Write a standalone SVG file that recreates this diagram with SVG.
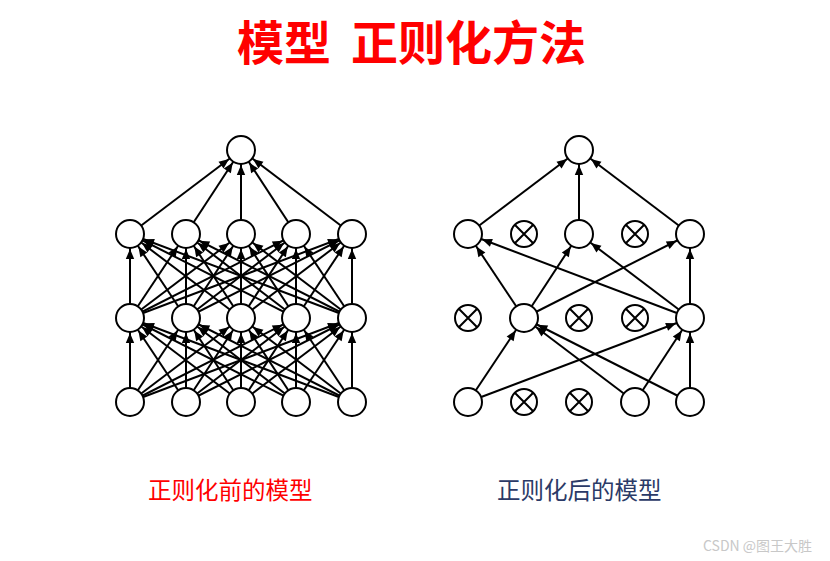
<svg xmlns="http://www.w3.org/2000/svg" width="830" height="561" viewBox="0 0 830 561">
<style>
.n{fill:#fff;stroke:#000;stroke-width:2}
.x{fill:#fff;stroke:#000;stroke-width:2}
.xl{stroke:#000;stroke-width:2}
.c line{stroke:#000;stroke-width:2;marker-end:url(#ah)}
.t{font-family:"Noto Sans CJK SC","Noto Sans",sans-serif}
</style>
<defs>
<marker id="ah" markerUnits="userSpaceOnUse" viewBox="-30 -6 30 12" refX="0" refY="0" markerWidth="30" markerHeight="12" orient="auto">
<path d="M-15,0 L-25,-4.2 L-25,4.2 Z" fill="#000"/>
</marker>
</defs>
<rect width="830" height="561" fill="#fff"/>
<g id="title" class="t" fill="#ff0000" font-weight="bold" font-size="47">
<text x="237" y="60">模型</text>
<text x="351" y="60">正则化方法</text>
</g>
<g id="connectors" class="c">
<!-- left: input to hidden1 -->
<line x1="130" y1="402" x2="130" y2="318"/><line x1="130" y1="402" x2="186" y2="318"/><line x1="130" y1="402" x2="241" y2="318"/><line x1="130" y1="402" x2="296" y2="318"/><line x1="130" y1="402" x2="352" y2="318"/>
<line x1="186" y1="402" x2="130" y2="318"/><line x1="186" y1="402" x2="186" y2="318"/><line x1="186" y1="402" x2="241" y2="318"/><line x1="186" y1="402" x2="296" y2="318"/><line x1="186" y1="402" x2="352" y2="318"/>
<line x1="241" y1="402" x2="130" y2="318"/><line x1="241" y1="402" x2="186" y2="318"/><line x1="241" y1="402" x2="241" y2="318"/><line x1="241" y1="402" x2="296" y2="318"/><line x1="241" y1="402" x2="352" y2="318"/>
<line x1="296" y1="402" x2="130" y2="318"/><line x1="296" y1="402" x2="186" y2="318"/><line x1="296" y1="402" x2="241" y2="318"/><line x1="296" y1="402" x2="296" y2="318"/><line x1="296" y1="402" x2="352" y2="318"/>
<line x1="352" y1="402" x2="130" y2="318"/><line x1="352" y1="402" x2="186" y2="318"/><line x1="352" y1="402" x2="241" y2="318"/><line x1="352" y1="402" x2="296" y2="318"/><line x1="352" y1="402" x2="352" y2="318"/>
<!-- left: hidden1 to hidden2 -->
<line x1="130" y1="318" x2="130" y2="234"/><line x1="130" y1="318" x2="186" y2="234"/><line x1="130" y1="318" x2="241" y2="234"/><line x1="130" y1="318" x2="296" y2="234"/><line x1="130" y1="318" x2="352" y2="234"/>
<line x1="186" y1="318" x2="130" y2="234"/><line x1="186" y1="318" x2="186" y2="234"/><line x1="186" y1="318" x2="241" y2="234"/><line x1="186" y1="318" x2="296" y2="234"/><line x1="186" y1="318" x2="352" y2="234"/>
<line x1="241" y1="318" x2="130" y2="234"/><line x1="241" y1="318" x2="186" y2="234"/><line x1="241" y1="318" x2="241" y2="234"/><line x1="241" y1="318" x2="296" y2="234"/><line x1="241" y1="318" x2="352" y2="234"/>
<line x1="296" y1="318" x2="130" y2="234"/><line x1="296" y1="318" x2="186" y2="234"/><line x1="296" y1="318" x2="241" y2="234"/><line x1="296" y1="318" x2="296" y2="234"/><line x1="296" y1="318" x2="352" y2="234"/>
<line x1="352" y1="318" x2="130" y2="234"/><line x1="352" y1="318" x2="186" y2="234"/><line x1="352" y1="318" x2="241" y2="234"/><line x1="352" y1="318" x2="296" y2="234"/><line x1="352" y1="318" x2="352" y2="234"/>
<!-- left: hidden2 to output -->
<line x1="130" y1="234" x2="241" y2="150"/><line x1="186" y1="234" x2="241" y2="150"/><line x1="241" y1="234" x2="241" y2="150"/><line x1="296" y1="234" x2="241" y2="150"/><line x1="352" y1="234" x2="241" y2="150"/>
<!-- right -->
<line x1="468" y1="234" x2="579" y2="150"/><line x1="579" y1="234" x2="579" y2="150"/><line x1="690" y1="234" x2="579" y2="150"/>
<line x1="524" y1="318" x2="468" y2="234"/><line x1="690" y1="318" x2="468" y2="234"/>
<line x1="524" y1="318" x2="579" y2="234"/><line x1="690" y1="318" x2="579" y2="234"/>
<line x1="524" y1="318" x2="690" y2="234"/><line x1="690" y1="318" x2="690" y2="234"/>
<line x1="468" y1="402" x2="524" y2="318"/><line x1="635" y1="402" x2="524" y2="318"/><line x1="690" y1="402" x2="524" y2="318"/>
<line x1="468" y1="402" x2="690" y2="318"/><line x1="635" y1="402" x2="690" y2="318"/><line x1="690" y1="402" x2="690" y2="318"/>
</g>
<g id="left-out"><circle class="n" cx="241" cy="150" r="14"/></g>
<g id="left-h2">
<circle class="n" cx="130" cy="234" r="14"/><circle class="n" cx="186" cy="234" r="14"/><circle class="n" cx="241" cy="234" r="14"/><circle class="n" cx="296" cy="234" r="14"/><circle class="n" cx="352" cy="234" r="14"/>
</g>
<g id="left-h1">
<circle class="n" cx="130" cy="318" r="14"/><circle class="n" cx="186" cy="318" r="14"/><circle class="n" cx="241" cy="318" r="14"/><circle class="n" cx="296" cy="318" r="14"/><circle class="n" cx="352" cy="318" r="14"/>
</g>
<g id="left-in">
<circle class="n" cx="130" cy="402" r="14"/><circle class="n" cx="186" cy="402" r="14"/><circle class="n" cx="241" cy="402" r="14"/><circle class="n" cx="296" cy="402" r="14"/><circle class="n" cx="352" cy="402" r="14"/>
</g>
<g id="right-out"><circle class="n" cx="579" cy="150" r="14"/></g>
<g id="right-h2">
<circle class="n" cx="468" cy="234" r="14"/><circle class="n" cx="579" cy="234" r="14"/><circle class="n" cx="690" cy="234" r="14"/>
</g>
<g id="right-h1">
<circle class="n" cx="524" cy="318" r="14"/><circle class="n" cx="690" cy="318" r="14"/>
</g>
<g id="right-in">
<circle class="n" cx="468" cy="402" r="14"/><circle class="n" cx="635" cy="402" r="14"/><circle class="n" cx="690" cy="402" r="14"/>
</g>
<defs>
<g id="xn"><circle class="x" cx="0" cy="0" r="13"/><path class="xl" d="M-9.2,-9.2 L9.2,9.2 M9.2,-9.2 L-9.2,9.2"/></g>
</defs>
<g id="dropped">
<use href="#xn" x="524" y="234"/><use href="#xn" x="635" y="234"/>
<use href="#xn" x="468" y="318"/><use href="#xn" x="579" y="318"/><use href="#xn" x="635" y="318"/>
<use href="#xn" x="524" y="402"/><use href="#xn" x="579" y="402"/>
</g>
<g id="labels" class="t" font-size="23.5">
<text x="148" y="499" fill="#ff0000">正则化前的模型</text>
<text x="497" y="499" fill="#2b3a67">正则化后的模型</text>
</g>
<g id="watermark" class="t" font-size="14" fill="#c8c8c8">
<text x="703" y="551">CSDN @图王大胜</text>
</g>
</svg>
